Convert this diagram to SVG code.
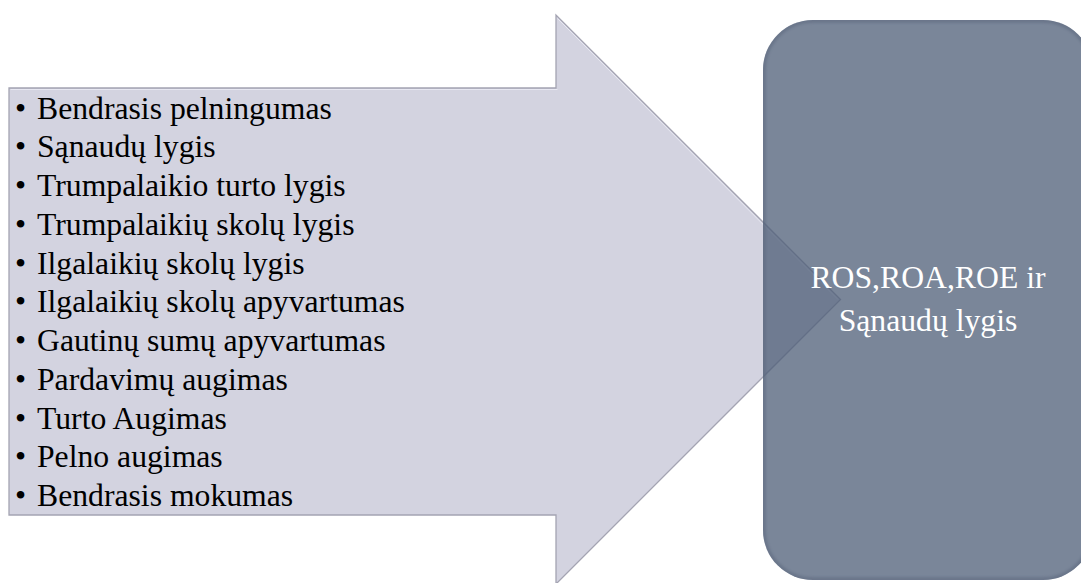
<svg xmlns="http://www.w3.org/2000/svg" width="1081" height="583" viewBox="0 0 1081 583">
  <defs>
    <style>
      .item { font-size: 31.7px; fill: #000000; }
      .label { font-size: 31.7px; fill: #ffffff; text-anchor: middle; }
    </style>
    <filter id="soft" x="-5%" y="-5%" width="110%" height="110%">
      <feGaussianBlur stdDeviation="1.2"/>
    </filter>
    <clipPath id="rectClip">
      <rect x="763" y="20" width="330" height="560" rx="50" ry="50"/>
    </clipPath>
  </defs>
  <rect x="0" y="0" width="1081" height="583" fill="#ffffff"/>

  <g id="arrow" font-family="Liberation Serif, Tinos, Times New Roman, DejaVu Serif, serif">
    <path d="M9,88 L556,88 L556,15 L840.5,299.5 L556,584 L556,515 L9,515 Z" fill="#d3d3e0" stroke="#a4a4b2" stroke-width="1.3"/>
    <path d="M10.5,89.5 L557.5,89.5 M557.5,18.5 L838,299.5" fill="none" stroke="#eeeef6" stroke-width="1" opacity="0.8"/>
    <text class="item" x="15" y="118.5">•</text><text class="item" x="37" y="118.5">Bendrasis pelningumas</text>
    <text class="item" x="15" y="157.25">•</text><text class="item" x="37" y="157.25">Sąnaudų lygis</text>
    <text class="item" x="15" y="196">•</text><text class="item" x="37" y="196">Trumpalaikio turto lygis</text>
    <text class="item" x="15" y="234.75">•</text><text class="item" x="37" y="234.75">Trumpalaikių skolų lygis</text>
    <text class="item" x="15" y="273.5">•</text><text class="item" x="37" y="273.5">Ilgalaikių skolų lygis</text>
    <text class="item" x="15" y="312.25">•</text><text class="item" x="37" y="312.25">Ilgalaikių skolų apyvartumas</text>
    <text class="item" x="15" y="351">•</text><text class="item" x="37" y="351">Gautinų sumų apyvartumas</text>
    <text class="item" x="15" y="389.75">•</text><text class="item" x="37" y="389.75">Pardavimų augimas</text>
    <text class="item" x="15" y="428.5">•</text><text class="item" x="37" y="428.5">Turto Augimas</text>
    <text class="item" x="15" y="467.25">•</text><text class="item" x="37" y="467.25">Pelno augimas</text>
    <text class="item" x="15" y="506">•</text><text class="item" x="37" y="506">Bendrasis mokumas</text>
  </g>

  <g id="connectors"></g>

  <g id="result" font-family="Liberation Serif, Tinos, Times New Roman, DejaVu Serif, serif">
    <rect x="763" y="20" width="330" height="560" rx="50" ry="50" fill="#4e5e77" fill-opacity="0.75"/>
    <g clip-path="url(#rectClip)">
      <rect x="763" y="20" width="330" height="560" rx="50" ry="50" fill="none" stroke="#5f6b80" stroke-width="6" opacity="0.55" filter="url(#soft)"/>
      <path d="M810,21.5 L1045,21.5" stroke="#a3aec4" stroke-width="2" opacity="0.7" filter="url(#soft)"/>
    </g>
    <text class="label" x="928" y="288">ROS,ROA,ROE ir</text>
    <text class="label" x="928" y="331">Sąnaudų lygis</text>
  </g>
</svg>
